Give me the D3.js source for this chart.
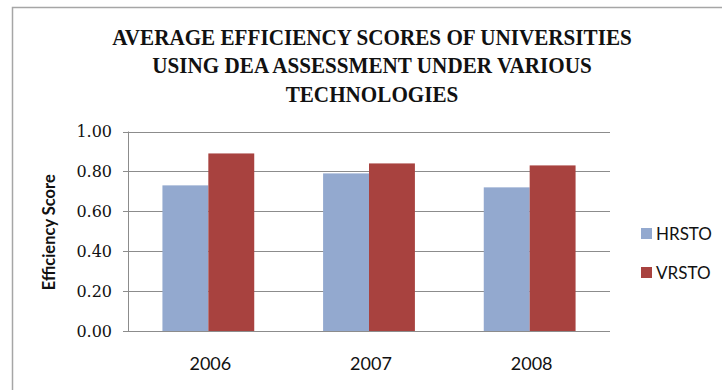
<!DOCTYPE html>
<html>
<head>
<meta charset="utf-8">
<script src="https://cdn.jsdelivr.net/npm/d3@7"></script>
<style>
  html, body { margin: 0; padding: 0; background: #fff; }
</style>
</head>
<body>
<div id="chart"></div>
<script>
// data
const years = ["2006", "2007", "2008"];
const seriesNames = ["HRSTO", "VRSTO"];
const hrsto = [0.73, 0.79, 0.72];
const vrsto = [0.89, 0.84, 0.83];
const yTicks = [0, 0.2, 0.4, 0.6, 0.8, 1.0];
const titleLines = [
  "AVERAGE EFFICIENCY SCORES OF UNIVERSITIES",
  "USING DEA ASSESSMENT UNDER VARIOUS",
  "TECHNOLOGIES"
];
const colors = ["#93A9CF", "#A8423F"];

const width = 722, height = 390;
const plot = { left: 128, right: 610, top: 131.5, bottom: 331 };

const svg = d3.select("#chart").append("svg")
  .attr("width", width)
  .attr("height", height);

// frame (only top and left edges are visible)
svg.append("path")
  .attr("d", `M12.5,${height} V7.5 H${width}`)
  .attr("fill", "none")
  .attr("stroke", "#a6a6a6")
  .attr("stroke-width", 1.5);

// title, squeezed to the width of the original
const title = svg.append("g").attr("class", "title");
title.selectAll("text")
  .data(titleLines)
  .join("text")
  .attr("x", 0)
  .attr("y", (d, i) => 45 + i * 28.5)
  .attr("text-anchor", "middle")
  .style("font-family", "'Liberation Serif', 'DejaVu Serif', serif")
  .style("font-weight", "bold")
  .style("font-size", "23px")
  .attr("fill", "#111")
  .text(d => d);
const firstW = title.select("text").node().getComputedTextLength();
const sx = 520 / firstW;
title.attr("transform", `translate(372,0) scale(${sx},1)`);

const x = d3.scaleBand().domain(years).range([plot.left, plot.right]).padding(0);
const xs = d3.scaleBand().domain(seriesNames).range([0, x.bandwidth()])
  .paddingInner(0).paddingOuter(0.75);
const y = d3.scaleLinear().domain([0, 1]).range([plot.bottom, plot.top]);

// gridlines
svg.append("g")
  .selectAll("line")
  .data(yTicks)
  .join("line")
  .attr("x1", plot.left - 5)
  .attr("x2", plot.right)
  .attr("y1", d => Math.round(y(d)) + 0.5)
  .attr("y2", d => Math.round(y(d)) + 0.5)
  .attr("stroke", "#8c8c8c")
  .attr("stroke-width", 1);

// bars
const rows = years.map((yr, i) => ({ year: yr, values: [hrsto[i], vrsto[i]] }));
svg.append("g")
  .selectAll("g")
  .data(rows)
  .join("g")
  .attr("transform", d => `translate(${x(d.year)},0)`)
  .selectAll("rect")
  .data(d => d.values.map((v, j) => ({ key: seriesNames[j], value: v, j })))
  .join("rect")
  .attr("x", d => xs(d.key))
  .attr("width", xs.bandwidth())
  .attr("y", d => y(d.value))
  .attr("height", d => y(0) - y(d.value))
  .attr("fill", d => colors[d.j]);

// axis lines
svg.append("line")
  .attr("x1", plot.left + 0.5).attr("x2", plot.left + 0.5)
  .attr("y1", plot.top).attr("y2", plot.bottom)
  .attr("stroke", "#8c8c8c");
svg.append("line")
  .attr("x1", plot.left - 5).attr("x2", plot.right)
  .attr("y1", Math.round(plot.bottom) + 0.5).attr("y2", Math.round(plot.bottom) + 0.5)
  .attr("stroke", "#8c8c8c");

// y tick labels
svg.append("g")
  .selectAll("text")
  .data(yTicks)
  .join("text")
  .attr("x", 112)
  .attr("y", d => y(d))
  .attr("dy", "0.36em")
  .attr("text-anchor", "end")
  .style("font-family", "'DejaVu Serif', 'Liberation Serif', serif")
  .style("font-size", "16px")
  .attr("fill", "#111")
  .text(d => d3.format(".2f")(d));

// x labels
svg.append("g")
  .selectAll("text")
  .data(years)
  .join("text")
  .attr("x", d => x(d) + x.bandwidth() / 2 + 2)
  .attr("y", 370)
  .attr("text-anchor", "middle")
  .style("font-family", "Lato, 'Open Sans', sans-serif")
  .style("font-size", "18px")
  .attr("fill", "#111")
  .text(d => d);

// y axis title
svg.append("text")
  .attr("transform", `translate(55,${(plot.top + plot.bottom) / 2 + 1}) rotate(-90)`)
  .attr("text-anchor", "middle")
  .style("font-family", "Lato, 'Open Sans', sans-serif")
  .style("font-weight", "bold")
  .style("font-size", "16.5px")
  .attr("fill", "#111")
  .text("Efficiency Score");

// legend
const legend = svg.append("g")
  .selectAll("g")
  .data(seriesNames)
  .join("g")
  .attr("transform", (d, i) => `translate(641,${228 + i * 39})`);
legend.append("rect")
  .attr("width", 11).attr("height", 11)
  .attr("fill", (d, i) => colors[i]);
legend.append("text")
  .attr("x", 15)
  .attr("y", 12)
  .style("font-family", "Lato, 'Open Sans', sans-serif")
  .style("font-size", "17px")
  .attr("fill", "#111")
  .text(d => d);
</script>
</body>
</html>
